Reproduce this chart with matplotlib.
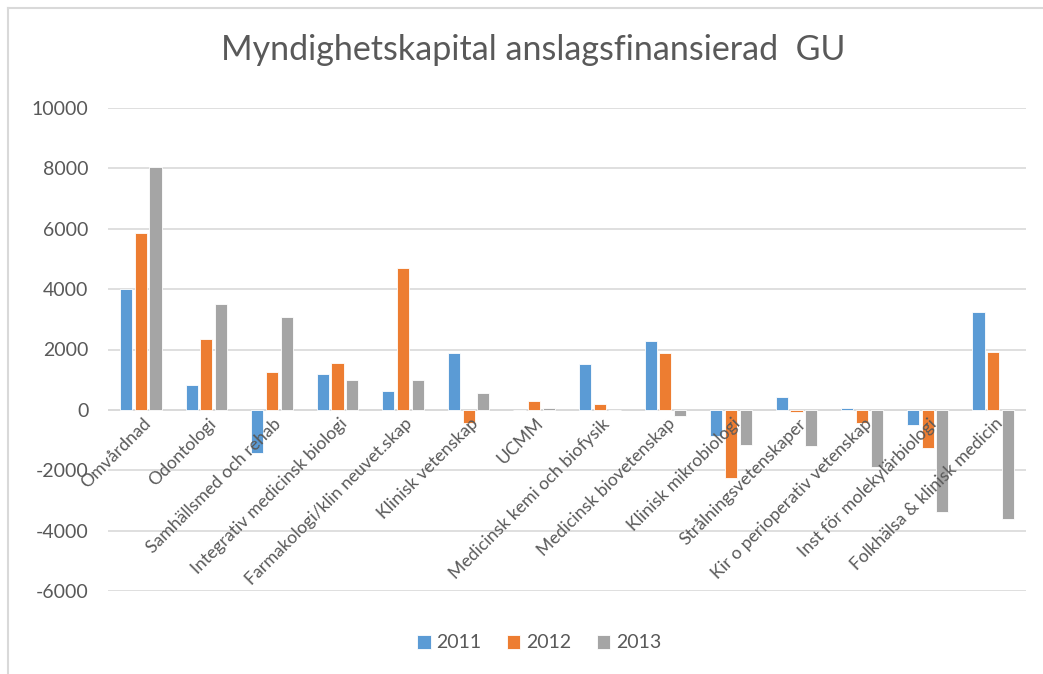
import matplotlib
matplotlib.use("Agg")
import matplotlib.pyplot as plt
import numpy as np

plt.rcParams['font.family'] = ['Lato', 'DejaVu Sans']

categories = ['Omvårdnad', 'Odontologi', 'Samhällsmed och rehab',
              'Integrativ medicinsk biologi', 'Farmakologi/klin neuvet.skap',
              'Klinisk vetenskap', 'UCMM', 'Medicinsk kemi och biofysik',
              'Medicinsk biovetenskap', 'Klinisk mikrobiologi',
              'Strålningsvetenskaper', 'Kir o perioperativ vetenskap',
              'Inst för molekylärbiologi', 'Folkhälsa & klinisk medicin']
v2011 = [4000, 830, -1420, 1200, 610, 1880, 0, 1520, 2270, -860, 440, 55, -500, 3230]
v2012 = [5850, 2350, 1240, 1550, 4700, -440, 280, 190, 1880, -2260, -60, -440, -1270, 1930]
v2013 = [8050, 3500, 3080, 1000, 1000, 570, 55, 0, -200, -1160, -1210, -1880, -3380, -3600]
years = ['2011', '2012', '2013']
colors = ['#5b9bd5', '#ed7d31', '#a5a5a5']
yticks = [-6000, -4000, -2000, 0, 2000, 4000, 6000, 8000, 10000]

fig = plt.figure(figsize=(10.43, 6.74), dpi=100)
ax = fig.add_axes([108 / 1043, 1 - 591 / 674, (1026 - 108) / 1043, (591 - 108) / 674])

x = np.arange(len(categories))
w = 0.185
for i, (vals, lab, c) in enumerate(zip([v2011, v2012, v2013], years, colors)):
    ax.bar(x + (i - 1) * 0.225, vals, w, color=c, label=lab, zorder=3,
           edgecolor='white', linewidth=0.6)

ax.set_xlim(-0.5, len(categories) - 0.5)
ax.set_ylim(-6000, 10000)
ax.set_yticks(yticks)
ax.set_yticklabels([str(t) for t in yticks])
ax.grid(axis='y', color='#d9d9d9', linewidth=1.2, zorder=0)
ax.axhline(0, color='#d9d9d9', linewidth=1.2, zorder=1)
for s in ax.spines.values():
    s.set_visible(False)
ax.tick_params(axis='y', length=0, labelsize=14, labelcolor='#595959', pad=14)
ax.tick_params(axis='x', length=0)
ax.set_xticks([])

for xi, name in zip(x, categories):
    ax.annotate(name, xy=(xi, 0), xycoords='data', xytext=(1, -4), textcoords='offset points',
                rotation=45, rotation_mode='anchor', ha='right', va='top',
                fontsize=12.7, color='#595959', zorder=4)

fig.text(0.511, 1 - 50 / 674, 'Myndighetskapital anslagsfinansierad  GU', ha='center', va='center',
         fontsize=24.5, color='#595959')

leg = fig.legend(loc='center', bbox_to_anchor=(0.517, 1 - 643 / 674), ncol=3, frameon=False,
                 fontsize=14, handlelength=0.7, handleheight=0.7, handletextpad=0.3,
                 columnspacing=1.3)
for t in leg.get_texts():
    t.set_color('#595959')

# chart area border (cropped on right and bottom)
fig.add_artist(plt.Line2D([8 / 1043, 8 / 1043], [0, 1 - 8 / 674], color='#d9d9d9', linewidth=1.5,
                          transform=fig.transFigure))
fig.add_artist(plt.Line2D([8 / 1043, 1], [1 - 8 / 674, 1 - 8 / 674], color='#d9d9d9', linewidth=1.5,
                          transform=fig.transFigure))

fig.savefig('out.png', dpi=100)
